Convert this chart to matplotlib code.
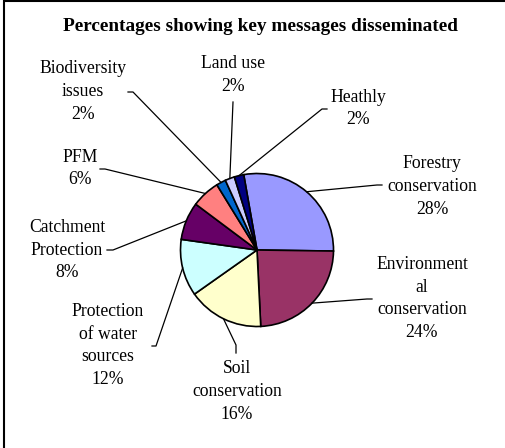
import numpy as np
import matplotlib
matplotlib.use("Agg")
import matplotlib.pyplot as plt
from matplotlib.patches import Rectangle

plt.rcParams['font.family'] = ['Liberation Serif', 'DejaVu Serif']

# data
labels = ['Forestry\nconservation', 'Environment\nal\nconservation', 'Soil\nconservation',
          'Protection\nof water\nsources', 'Catchment\nProtection', 'PFM',
          'Biodiversity\nissues', 'Land use', 'Heathly']
values = [28, 24, 16, 12, 8, 6, 2, 2, 2]
colors = ['#9999FF', '#993366', '#FFFFCC', '#CCFFFF', '#660066', '#FF8080',
          '#0066CC', '#CCCCFF', '#000080']
title = 'Percentages showing key messages disseminated'

W, H = 506, 448
cx, cy, r = 257, 250, 76.5

# label block centres and leader-line start points (pixel coords, y down)
label_pos = [(432, 186.5), (422, 298.5), (237, 391.5), (108, 345.5), (67, 250),
             (80, 168.5), (83, 91.5), (233, 75), (358, 108.5)]
leader_start = [[(382, 185), (377, 185)], [(372, 299), (367, 299)],
                [(236, 353), (236, 345)], [(152, 346), (156, 346)],
                [(107, 250), (113, 250)], [(100, 169), (105, 169)],
                [(128, 92), (133, 92)], [(233, 102)], [(327, 109), (322, 109)]]

fig = plt.figure(figsize=(W / 100, H / 100), dpi=100)
ax = fig.add_axes([0, 0, 1, 1])

def fy(y):
    return H - y

wedges, _ = ax.pie(values, colors=colors, startangle=100, counterclock=False,
                   center=(cx, fy(cy)), radius=r, frame=True,
                   wedgeprops=dict(edgecolor='black', linewidth=1.2))
ax.set_xlim(0, W)
ax.set_ylim(0, H)
ax.set_aspect('equal')
ax.axis('off')

for i, w in enumerate(wedges):
    mid = np.deg2rad((w.theta1 + w.theta2) / 2)
    px, py = cx + r * np.cos(mid), fy(cy) + r * np.sin(mid)
    pts = [(x, fy(y)) for x, y in leader_start[i]] + [(px, py)]
    xs, ys = zip(*pts)
    ax.plot(xs, ys, color='black', lw=0.9)
    lx, ly = label_pos[i]
    ax.text(lx, fy(ly), labels[i] + '\n' + str(values[i]) + '%', ha='center', va='center',
            multialignment='center', fontsize=12.7, linespacing=1.45)

ax.text(261, fy(26), title, ha='center', va='center', fontsize=13.9, fontweight='bold')

ax.add_patch(Rectangle((4, -20), 700, fy(1) + 20, fill=False, edgecolor='black', lw=1.5))

fig.savefig('out.png', dpi=100)
